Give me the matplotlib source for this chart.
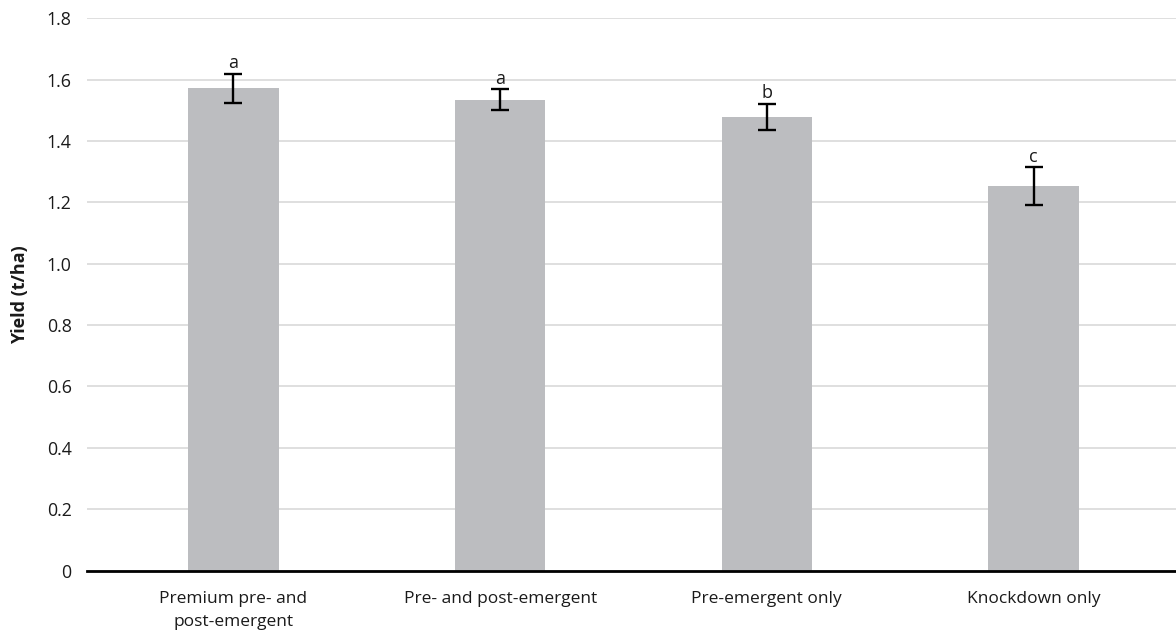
import matplotlib
matplotlib.use("Agg")
import matplotlib.pyplot as plt
import numpy as np

# Yield by herbicide strategy
categories = ["Premium pre- and\npost-emergent", "Pre- and post-emergent",
              "Pre-emergent only", "Knockdown only"]
yield_mean = [1.572, 1.535, 1.479, 1.253]
yield_err = [0.048, 0.033, 0.043, 0.062]
sig_letters = ["a", "a", "b", "c"]
y_ticks = [0, 0.2, 0.4, 0.6, 0.8, 1.0, 1.2, 1.4, 1.6, 1.8]
y_tick_labels = ["0", "0.2", "0.4", "0.6", "0.8", "1.0", "1.2", "1.4", "1.6", "1.8"]

plt.rcParams["font.family"] = ["Open Sans", "DejaVu Sans"]

fig = plt.figure(figsize=(11.76, 6.31), dpi=100)
ax = fig.add_axes([87 / 1176, 1 - 570.5 / 631, (1176 - 87) / 1176, (570.5 - 18.3) / 631])

x = np.arange(len(categories))
ax.bar(x, yield_mean, width=0.339, color="#BCBDC0", zorder=2)
ax.errorbar(x, yield_mean, yerr=yield_err, fmt="none", ecolor="black",
            elinewidth=1.7, capsize=6.5, capthick=1.7, zorder=3)

for xi, m, e, s in zip(x, yield_mean, yield_err, sig_letters):
    ax.annotate(s, (xi, m + e), xytext=(0, 1), textcoords="offset points",
                ha="center", va="bottom", fontsize=13, color="#1a1a1a")

ax.set_xlim(-0.549, 3.534)
ax.set_ylim(0, 1.8)
ax.set_yticks(y_ticks)
ax.set_yticklabels(y_tick_labels, fontsize=12.8, color="#1a1a1a")
ax.set_xticks(x)
ax.set_xticklabels(categories, fontsize=12.5, color="#1a1a1a", linespacing=1.55)
ax.tick_params(axis="both", length=0)
ax.tick_params(axis="y", pad=11)
ax.tick_params(axis="x", pad=15)

ax.grid(axis="y", color="#D9D9D9", linewidth=1.2, zorder=0)
ax.set_axisbelow(True)
for side in ["top", "right", "left"]:
    ax.spines[side].set_visible(False)
ax.spines["bottom"].set_linewidth(2.0)
ax.spines["bottom"].set_color("black")
ax.spines["bottom"].set_zorder(4)

ax.set_ylabel("Yield (t/ha)", fontsize=13, fontweight="bold", color="#1a1a1a", labelpad=13)

fig.savefig("out.png", dpi=100)
